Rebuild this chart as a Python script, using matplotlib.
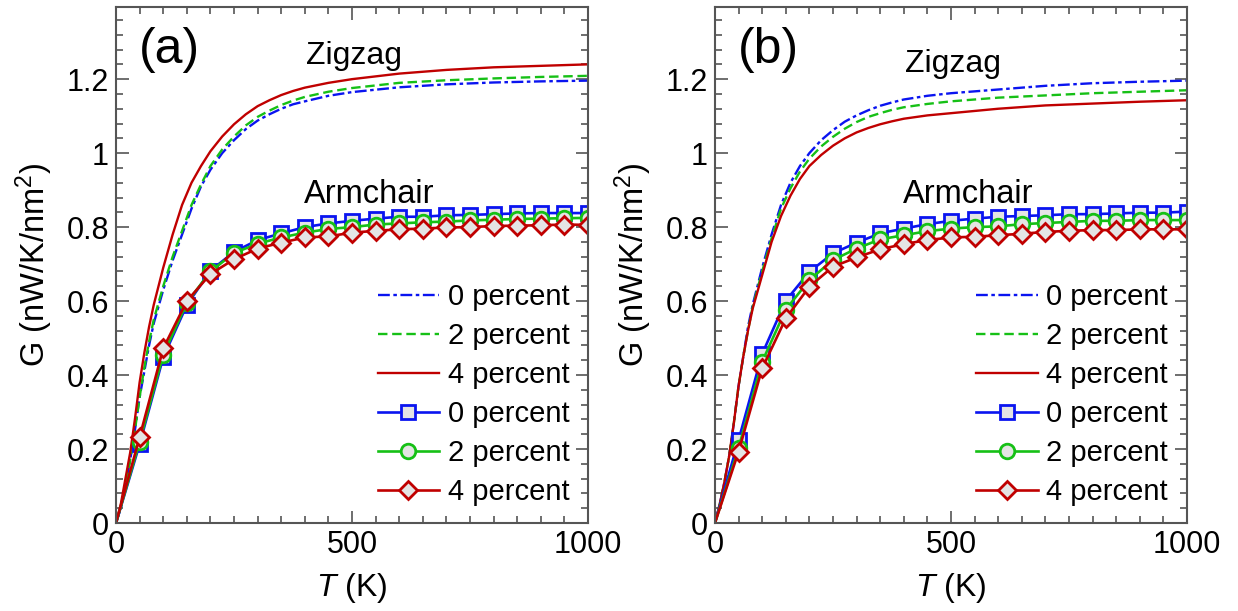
import matplotlib
matplotlib.use("Agg")
import matplotlib.pyplot as plt
from matplotlib.ticker import MultipleLocator, FuncFormatter

plt.rcParams['font.family'] = ['Liberation Sans', 'DejaVu Sans']
plt.rcParams['mathtext.fontset'] = 'custom'
plt.rcParams['mathtext.rm'] = 'Liberation Sans'
plt.rcParams['mathtext.it'] = 'Liberation Sans:italic'

# temperature grid for the zigzag curves (K)
t_zz = [0, 10, 20, 30, 40, 50, 60, 70, 80, 100, 120, 140, 160, 180, 200, 225,
        250, 275, 300, 325, 350, 375, 400, 450, 500, 600, 700, 800, 900, 1000]
# temperature of the armchair points (K)
t_ac = [0, 50, 100, 150, 200, 250, 300, 350, 400, 450, 500, 550, 600, 650,
        700, 750, 800, 850, 900, 950, 1000]

# panel (a) zigzag
a_zz_0 = [0, 0.04, 0.10, 0.17, 0.25, 0.34, 0.41, 0.48, 0.54, 0.63, 0.71, 0.78, 0.85, 0.91,
          0.955, 1.0, 1.035, 1.065, 1.088, 1.105, 1.12, 1.132, 1.14, 1.155, 1.165, 1.178,
          1.186, 1.191, 1.194, 1.196]
a_zz_2 = [0, 0.04, 0.10, 0.17, 0.25, 0.34, 0.42, 0.49, 0.55, 0.64, 0.72, 0.79, 0.86, 0.915,
          0.965, 1.01, 1.045, 1.075, 1.098, 1.115, 1.13, 1.142, 1.152, 1.166, 1.176, 1.19,
          1.197, 1.202, 1.206, 1.209]
a_zz_4 = [0, 0.05, 0.12, 0.19, 0.28, 0.38, 0.46, 0.53, 0.59, 0.69, 0.78, 0.86, 0.92, 0.965,
          1.005, 1.045, 1.078, 1.105, 1.127, 1.143, 1.157, 1.168, 1.177, 1.19, 1.2, 1.215,
          1.225, 1.232, 1.236, 1.24]
# panel (a) armchair
a_ac_0 = [0, 0.213, 0.448, 0.589, 0.682, 0.733, 0.765, 0.783, 0.80, 0.81, 0.817, 0.823,
          0.828, 0.828, 0.832, 0.833, 0.835, 0.837, 0.838, 0.838, 0.838]
a_ac_2 = [0, 0.22, 0.455, 0.595, 0.68, 0.73, 0.755, 0.772, 0.785, 0.795, 0.80, 0.807,
          0.81, 0.813, 0.815, 0.818, 0.82, 0.822, 0.823, 0.824, 0.825]
a_ac_4 = [0, 0.232, 0.472, 0.60, 0.673, 0.713, 0.742, 0.758, 0.772, 0.775, 0.785, 0.79,
          0.794, 0.796, 0.799, 0.80, 0.803, 0.804, 0.805, 0.807, 0.806]

# panel (b) zigzag
b_zz_0 = [0, 0.05, 0.11, 0.18, 0.27, 0.37, 0.45, 0.53, 0.59, 0.69, 0.78, 0.86, 0.92, 0.965,
          1.0, 1.035, 1.062, 1.085, 1.102, 1.116, 1.128, 1.137, 1.145, 1.155, 1.162, 1.172,
          1.182, 1.189, 1.193, 1.196]
b_zz_2 = [0, 0.05, 0.11, 0.18, 0.27, 0.37, 0.45, 0.52, 0.585, 0.68, 0.77, 0.85, 0.905, 0.95,
          0.985, 1.018, 1.044, 1.066, 1.084, 1.098, 1.108, 1.117, 1.124, 1.133, 1.14, 1.15,
          1.156, 1.162, 1.166, 1.170]
b_zz_4 = [0, 0.05, 0.11, 0.18, 0.27, 0.37, 0.45, 0.52, 0.58, 0.67, 0.76, 0.83, 0.885, 0.93,
          0.965, 0.995, 1.02, 1.04, 1.056, 1.068, 1.078, 1.086, 1.093, 1.102, 1.108, 1.12,
          1.129, 1.134, 1.139, 1.143]
# panel (b) armchair
b_ac_0 = [0, 0.224, 0.457, 0.601, 0.679, 0.729, 0.758, 0.783, 0.796, 0.808, 0.817, 0.823,
          0.828, 0.83, 0.832, 0.835, 0.835, 0.837, 0.839, 0.839, 0.842]
b_ac_2 = [0, 0.202, 0.436, 0.577, 0.657, 0.711, 0.742, 0.767, 0.778, 0.789, 0.796, 0.80,
          0.802, 0.808, 0.811, 0.814, 0.817, 0.817, 0.819, 0.819, 0.819]
b_ac_4 = [0, 0.193, 0.418, 0.553, 0.639, 0.693, 0.718, 0.74, 0.754, 0.765, 0.772, 0.774,
          0.778, 0.782, 0.787, 0.79, 0.792, 0.792, 0.794, 0.794, 0.794]

labels = ['0 percent', '2 percent', '4 percent']
BLUE, GREEN, RED = '#0a14f0', '#16c016', '#c00000'
FACE = '#e4e4e4'


def draw_panel(ax, tag, zz, ac):
    styles = [(BLUE, (0, (5, 1.5, 1.5, 1.5))), (GREEN, (0, (4, 2))), (RED, '-')]
    for y, (c, ls), lab in zip(zz, styles, labels):
        ax.plot(t_zz, y, color=c, ls=ls, lw=1.7, label=lab)
    markers = [(BLUE, 's', 10), (GREEN, 'o', 10.5), (RED, 'D', 9.5)]
    for y, (c, m, ms), lab in zip(ac, markers, labels):
        ax.plot(t_ac, y, color=c, lw=1.9, marker=m, ms=ms,
                mfc=FACE, mec=c, mew=2, markevery=list(range(1, len(t_ac))),
                label=lab)

    ax.set_xlim(0, 1000)
    ax.set_ylim(0, 1.395)
    ax.xaxis.set_major_locator(MultipleLocator(500))
    ax.xaxis.set_minor_locator(MultipleLocator(50))
    ax.yaxis.set_major_locator(MultipleLocator(0.2))
    ax.yaxis.set_minor_locator(MultipleLocator(0.04))
    ax.yaxis.set_major_formatter(FuncFormatter(lambda v, p: '%g' % round(v, 2)))
    ax.tick_params(which='both', direction='in', top=True, right=True,
                   color='#555555', labelsize=22, width=1.2)
    ax.tick_params(which='major', length=9, pad=5)
    ax.tick_params(which='minor', length=5)
    for s in ax.spines.values():
        s.set_color('#555555')
        s.set_linewidth(1.5)

    ax.set_xlabel(r'$T$ (K)', fontsize=23, labelpad=8)
    ax.set_ylabel(r'G (nW/K/nm$^2$)', fontsize=23.5, labelpad=8)

    ax.text(48, 1.243, tag, fontsize=36, ha='left', va='baseline')
    ax.text(505, 1.24 if tag == '(a)' else 1.22, 'Zigzag', fontsize=23,
            ha='center', va='baseline')
    ax.text(537, 0.865, 'Armchair', fontsize=23.5, ha='center', va='baseline')

    ax.legend(loc='lower right', frameon=False, fontsize=21, handlelength=2.1,
              handletextpad=0.3, labelspacing=0.38, borderaxespad=0.0,
              bbox_to_anchor=(0.985, 0.01))


fig = plt.figure(figsize=(12.38, 6.11), dpi=100)
ax_a = fig.add_axes([0.0937, 0.144, 0.3813, 0.8445])
ax_b = fig.add_axes([0.5775, 0.144, 0.3813, 0.8445])
draw_panel(ax_a, '(a)', [a_zz_0, a_zz_2, a_zz_4], [a_ac_0, a_ac_2, a_ac_4])
draw_panel(ax_b, '(b)', [b_zz_0, b_zz_2, b_zz_4], [b_ac_0, b_ac_2, b_ac_4])

fig.savefig('out.png', dpi=100)
